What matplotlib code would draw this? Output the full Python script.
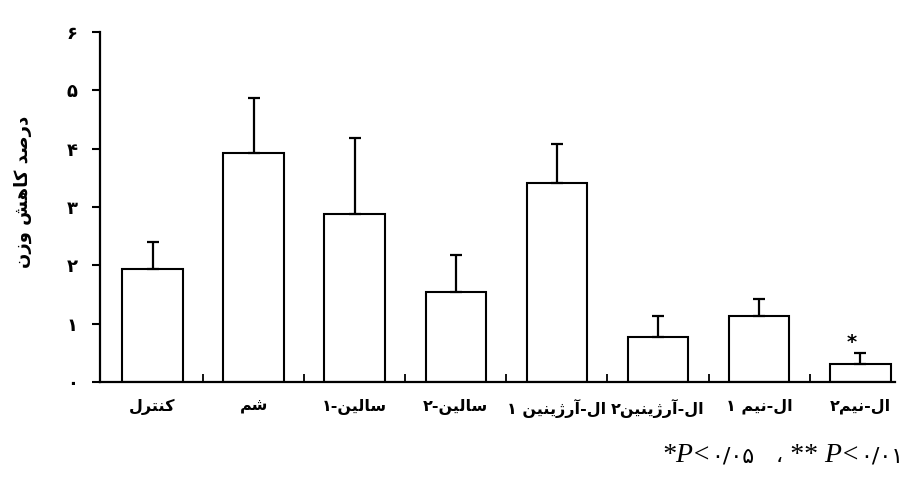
import matplotlib
matplotlib.use("Agg")
import matplotlib.pyplot as plt
import numpy as np

# contextual forms: (isolated, final, initial, medial); two entries = joins only to the right
FORMS = {
    "\u0627": ("\uFE8D", "\uFE8E"),
    "\u0622": ("\uFE81", "\uFE82"),
    "\u062A": ("\uFE95", "\uFE96", "\uFE97", "\uFE98"),
    "\u062F": ("\uFEA9", "\uFEAA"),
    "\u0631": ("\uFEAD", "\uFEAE"),
    "\u0632": ("\uFEAF", "\uFEB0"),
    "\u0698": ("\uFB8A", "\uFB8B"),
    "\u0633": ("\uFEB1", "\uFEB2", "\uFEB3", "\uFEB4"),
    "\u0634": ("\uFEB5", "\uFEB6", "\uFEB7", "\uFEB8"),
    "\u0635": ("\uFEB9", "\uFEBA", "\uFEBB", "\uFEBC"),
    "\u06A9": ("\uFB8E", "\uFB8F", "\uFB90", "\uFB91"),
    "\u0644": ("\uFEDD", "\uFEDE", "\uFEDF", "\uFEE0"),
    "\u0645": ("\uFEE1", "\uFEE2", "\uFEE3", "\uFEE4"),
    "\u0646": ("\uFEE5", "\uFEE6", "\uFEE7", "\uFEE8"),
    "\u0647": ("\uFEE9", "\uFEEA", "\uFEEB", "\uFEEC"),
    "\u0648": ("\uFEED", "\uFEEE"),
    "\u06CC": ("\uFBFC", "\uFBFD", "\uFBFE", "\uFBFF"),
}


def rtl(text):
    """shape Persian text and reverse it so matplotlib draws it right to left"""
    out = []
    for i, c in enumerate(text):
        if c not in FORMS:
            out.append(c)
            continue
        f = FORMS[c]
        prev = text[i - 1] if i > 0 else None
        nxt = text[i + 1] if i + 1 < len(text) else None
        join_prev = prev in FORMS and len(FORMS[prev]) == 4
        join_next = len(f) == 4 and nxt in FORMS
        if join_prev and join_next:
            out.append(f[3])
        elif join_prev:
            out.append(f[1])
        elif join_next:
            out.append(f[2])
        else:
            out.append(f[0])
    return "".join(reversed(out))


# ---- data ----
groups = ["کنترل", "شم", "سالین-۱", "سالین-۲", "ال-آرژینین ۱",
          "ال-آرژینین۲", "ال-نیم ۱", "ال-نیم۲"]
means = [1.94, 3.93, 2.88, 1.54, 3.41, 0.77, 1.13, 0.31]
errs = [0.46, 0.94, 1.31, 0.64, 0.67, 0.36, 0.29, 0.19]
yticks = [0, 1, 2, 3, 4, 5, 6]
ytick_labels = ["۰", "۱", "۲", "۳", "۴", "۵", "۶"]
ylabel = "درصد کاهش وزن"
# footnote pieces, visual left-to-right: (text, is_persian)
footnote = [("*", False), ("P", False), ("<", False), ("۰/۰۵", True),
            ("   ", False), ("،", True), (" ** ", False), ("P", False),
            ("<", False), ("۰/۰۱", True)]

fig = plt.figure(figsize=(9.04, 4.79), dpi=100)
ax = fig.add_axes([0.1106, 0.2025, 0.879, 0.7307])

x = np.arange(len(means))
ax.bar(x, means, width=0.6, color="white", edgecolor="black", linewidth=1.5)
ax.errorbar(x, means, yerr=[np.zeros(len(errs)), errs], fmt="none",
            ecolor="black", elinewidth=1.6, capsize=4.5, capthick=1.6)

# significance star over the last group
ax.text(x[-1] - 0.08, 0.68, "*", ha="center", va="center",
        fontsize=14, fontweight="bold")

ax.set_xlim(-0.52, 7.34)
ax.set_ylim(0, 6)
ax.spines["top"].set_visible(False)
ax.spines["right"].set_visible(False)
ax.spines["left"].set_linewidth(1.6)
ax.spines["bottom"].set_linewidth(1.6)

ax.set_yticks(yticks)
ax.set_yticklabels(ytick_labels, family="DejaVu Sans", fontweight="bold", fontsize=13)
ax.tick_params(axis="y", direction="out", length=6, width=1.5, pad=10)

ax.set_xticks(x)
ax.set_xticklabels([rtl(g) for g in groups], family="DejaVu Sans",
                   fontweight="bold", fontsize=11.5)
ax.tick_params(axis="x", which="major", length=0, pad=12)
ax.set_xticks(x[:-1] + 0.5, minor=True)
ax.tick_params(axis="x", which="minor", direction="in", length=6, width=1.3)

fig.text(0.025, 0.60, rtl(ylabel), rotation=90, ha="center", va="center",
         family="DejaVu Sans", fontweight="bold", fontsize=13)

# footnote: italic serif latin, upright Persian digits, laid out right to left
renderer = fig.canvas.get_renderer()
fw = fig.get_figwidth() * fig.dpi
xr = 0.999
for txt, persian in reversed(footnote):
    if persian:
        t = fig.text(xr, 0.035, txt, ha="right", va="baseline", fontsize=16,
                     family="DejaVu Sans")
    else:
        t = fig.text(xr, 0.035, txt, ha="right", va="baseline", fontsize=20,
                     style="italic", family="Liberation Serif")
    xr -= t.get_window_extent(renderer).width / fw

fig.savefig("out.png", dpi=100)
